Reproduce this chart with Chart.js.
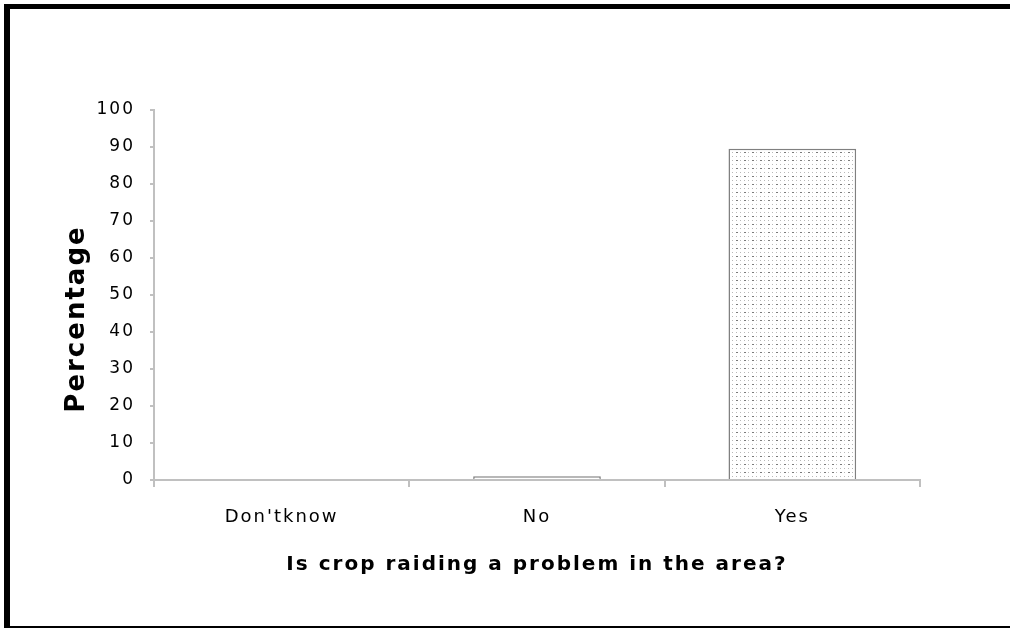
<!DOCTYPE html>
<html>
<head>
<meta charset="utf-8">
<script src="https://cdn.jsdelivr.net/npm/chart.js@4/dist/chart.umd.min.js"></script>
<style>
    html, body { margin: 0; padding: 0; background: #fff; }
    #wrap { position: relative; width: 1010px; height: 628px; }
    #frame { position: absolute; left: 4px; top: 4px; width: 1020px; height: 617px; border-left: 6px solid #000; border-top: 5px solid #000; border-bottom: 5px solid #000; }
    canvas { position: absolute; left: 0; top: 0; }
</style>
</head>
<body>
<div id="wrap">
    <div id="frame"></div>
    <canvas id="chart" width="1010" height="628"></canvas>
</div>
<script>
    // data
    var categories = ["Don'tknow", "No", "Yes"];
    var percentages = [0, 1, 89.5];
    var yTicks = [0, 10, 20, 30, 40, 50, 60, 70, 80, 90, 100];
    var yTitle = 'Percentage';
    var xTitle = 'Is crop raiding a problem in the area?';

    // dotted fill like the old excel pattern
    function makePattern() {
        var c = document.createElement('canvas');
        c.width = 8;
        c.height = 8;
        var g = c.getContext('2d');
        g.fillStyle = '#ffffff';
        g.fillRect(0, 0, 8, 8);
        g.fillStyle = '#b8b8b8';
        g.fillRect(0, 0, 1, 1);
        g.fillRect(4, 0, 1, 1);
        g.fillRect(0, 4, 1, 1);
        g.fillRect(4, 4, 1, 1);
        g.fillStyle = '#7a7a7a';
        g.fillRect(0, 0, 2, 1);
        return g.createPattern(c, 'repeat');
    }

    // wide spaced text like the original, canvas gets reset so set it each time
    var spacingPlugin = {
        id: 'spacing',
        beforeUpdate: function (chart) { chart.ctx.letterSpacing = '2px'; },
        beforeDraw: function (chart) { chart.ctx.letterSpacing = '2px'; }
    };

    // y title sits a bit below the middle in the original, draw it ourselves
    var yTitlePlugin = {
        id: 'yTitle',
        afterDraw: function (chart) {
            var c = chart.ctx;
            c.save();
            c.letterSpacing = '2px';
            c.translate(77, 319);
            c.rotate(-Math.PI / 2);
            c.font = 'bold 26px "DejaVu Sans"';
            c.fillStyle = '#000';
            c.textAlign = 'center';
            c.textBaseline = 'middle';
            c.fillText(yTitle, 0, 0);
            c.restore();
        }
    };

    var ctx = document.getElementById('chart').getContext('2d');
    new Chart(ctx, {
        type: 'bar',
        data: {
            labels: categories,
            datasets: [{
                data: percentages,
                backgroundColor: makePattern(),
                borderColor: '#808080',
                borderWidth: 1.5,
                borderSkipped: 'bottom',
                barPercentage: 0.5,
                categoryPercentage: 1
            }]
        },
        plugins: [spacingPlugin, yTitlePlugin],
        options: {
            responsive: false,
            animation: false,
            layout: {
                padding: {left: 0, top: 110, right: 90, bottom: 48}
            },
            plugins: {
                legend: {display: false},
                tooltip: {enabled: false}
            },
            scales: {
                x: {
                    grid: {drawOnChartArea: false, offset: true, color: '#c0c0c0', lineWidth: 2, tickLength: 7},
                    border: {color: '#c0c0c0', width: 2},
                    ticks: {color: '#000', padding: 20, font: {family: 'DejaVu Sans', size: 18}},
                    title: {
                        display: true,
                        text: xTitle,
                        color: '#000',
                        font: {family: 'DejaVu Sans', size: 20, weight: 'bold'},
                        padding: {top: 0, bottom: 3}
                    },
                    afterFit: function (scale) { scale.height = 100; }
                },
                y: {
                    min: 0,
                    max: 100,
                    afterBuildTicks: function (scale) {
                        scale.ticks = yTicks.map(function (v) { return {value: v}; });
                    },
                    grid: {drawOnChartArea: false, color: '#c0c0c0', lineWidth: 2, tickLength: 4},
                    border: {color: '#c0c0c0', width: 2},
                    ticks: {color: '#000', padding: 15, font: {family: 'DejaVu Sans', size: 17}},
                    afterFit: function (scale) { scale.width = 154; }
                }
            }
        }
    });
</script>
</body>
</html>
